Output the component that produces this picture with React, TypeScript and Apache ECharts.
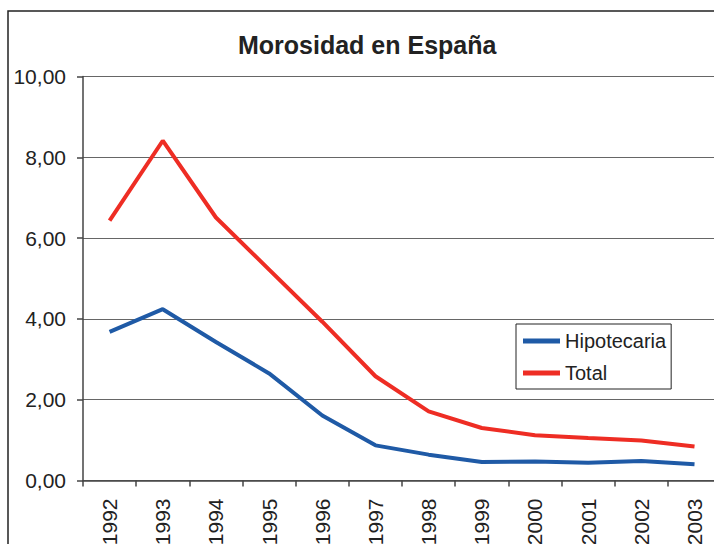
import React, { useEffect, useRef } from "react";
import * as echarts from "echarts";

const years = ["1992", "1993", "1994", "1995", "1996", "1997", "1998", "1999", "2000", "2001", "2002", "2003"];
const hipotecaria = [3.68, 4.24, 3.43, 2.65, 1.61, 0.87, 0.64, 0.46, 0.47, 0.44, 0.48, 0.4];
const total = [6.43, 8.41, 6.51, 5.22, 3.93, 2.58, 1.71, 1.3, 1.12, 1.05, 0.99, 0.84];
const seriesNames = ["Hipotecaria", "Total"];
const titleText = "Morosidad en España";

const FONT = "'Liberation Sans', Arial, sans-serif";

export default function App() {
  const ref = useRef<HTMLDivElement>(null);
  useEffect(() => {
    if (!ref.current) return;
    const chart = echarts.init(ref.current, null, { renderer: "svg" });
    chart.setOption({
      animation: false,
      backgroundColor: "#ffffff",
      title: {
        text: titleText,
        left: 238,
        top: 32,
        padding: 0,
        textStyle: { fontFamily: FONT, fontSize: 25, fontWeight: "bold", color: "#222" },
      },
      graphic: [
        {
          type: "rect",
          shape: { x: 8, y: 11, width: 900, height: 700 },
          style: { fill: "none", stroke: "#222", lineWidth: 1.5 },
          silent: true,
        },
      ],
      legend: {
        orient: "vertical",
        left: 516,
        top: 324,
        padding: [7, 5, 6, 7],
        itemGap: 12,
        itemWidth: 37,
        itemHeight: 5,
        icon: "rect",
        borderColor: "#222",
        borderWidth: 1,
        data: seriesNames,
        textStyle: { fontFamily: FONT, fontSize: 20, color: "#222" },
      },
      grid: {
        left: 83,
        right: 18.9,
        top: 76.5,
        bottom: 63.5,
        containLabel: false,
        outerBoundsMode: "none",
      },
      xAxis: {
        type: "category",
        data: years,
        boundaryGap: true,
        axisLine: { lineStyle: { color: "#444", width: 1.5 } },
        axisTick: { show: true, length: 6, lineStyle: { color: "#444", width: 1.5 } },
        axisLabel: { rotate: 90, margin: 18, fontFamily: FONT, fontSize: 21, color: "#222" },
      },
      yAxis: {
        type: "value",
        min: 0,
        max: 10,
        interval: 2,
        axisLine: { show: true, lineStyle: { color: "#444", width: 1.5 } },
        axisTick: { show: true, length: 6, lineStyle: { color: "#444", width: 1.5 } },
        splitLine: { show: true, lineStyle: { color: "#666", width: 1.2 } },
        axisLabel: {
          margin: 17,
          fontFamily: FONT,
          fontSize: 21,
          color: "#222",
          formatter: (v: number) => v.toFixed(2).replace(".", ","),
        },
      },
      series: [
        {
          name: seriesNames[0],
          type: "line",
          data: hipotecaria,
          showSymbol: false,
          symbol: "none",
          itemStyle: { color: "#1f5aa6" },
          lineStyle: { color: "#1f5aa6", width: 4 },
        },
        {
          name: seriesNames[1],
          type: "line",
          data: total,
          showSymbol: false,
          symbol: "none",
          itemStyle: { color: "#ee2d24" },
          lineStyle: { color: "#ee2d24", width: 4 },
        },
      ],
    });
    return () => chart.dispose();
  }, []);
  return (
    <div style={{ position: "fixed", left: 0, top: 0, width: 714, height: 544, overflow: "hidden", background: "#fff" }}>
      <div ref={ref} style={{ width: 740, height: 544 }} />
    </div>
  );
}
